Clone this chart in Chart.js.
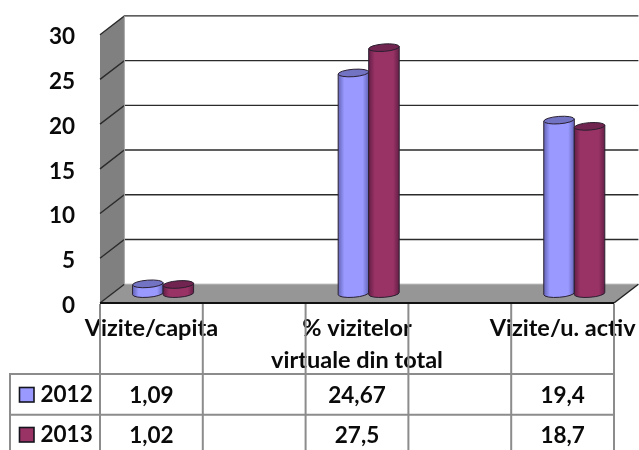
<!DOCTYPE html>
<html><head><meta charset="utf-8">
<style>html,body{margin:0;padding:0;background:#fff;overflow:hidden}canvas{display:block}</style>
<script src="https://cdn.jsdelivr.net/npm/chart.js@4"></script></head>
<body><canvas id="c" width="639" height="450"></canvas>
<script>
const categories = ["Vizite/capita", "", ["% vizitelor", "virtuale din total"], "", "Vizite/u. activ"];
const series2012 = [1.09, null, 24.67, null, 19.4];
const series2013 = [1.02, null, 27.5, null, 18.7];
const seriesNames = ["2012", "2013"];
const seriesColors = ["#9999ff", "#993366"];
const shadeColors = ["#6464b8", "#641e46"];
const topColors = ["#7373c4", "#70244f"];
const yTicks = {min: 0, max: 30, step: 5};

const FAMILY = 'Lato, "Open Sans", sans-serif';
const DX = 24.4, DY = 18.8;
const TEXT = '#0a0a0a', TABLE = '#8c8c8c', GRID = '#2b2b2b';

function cylinder(ctx, bar, i) {
  const x = bar.x + DX / 2 - 0.5, w = bar.width, rx = w / 2, ry = 3.7, tilt = -0.075;
  const yTop = bar.y - DY / 2, yBase = bar.base - DY / 2;
  const g = ctx.createLinearGradient(x - rx, 0, x + rx, 0);
  g.addColorStop(0, shadeColors[i]);
  g.addColorStop(0.2, seriesColors[i]);
  g.addColorStop(0.8, seriesColors[i]);
  g.addColorStop(1, shadeColors[i]);
  const dy = rx * Math.sin(tilt);
  ctx.save();
  ctx.beginPath();
  ctx.moveTo(x - rx, yTop - dy);
  ctx.lineTo(x - rx, yBase - dy);
  ctx.ellipse(x, yBase, rx, ry, tilt, Math.PI, 0, true);
  ctx.lineTo(x + rx, yTop + dy);
  ctx.closePath();
  ctx.fillStyle = g;
  ctx.fill();
  ctx.strokeStyle = '#2a2030';
  ctx.lineWidth = 1;
  ctx.stroke();
  ctx.beginPath();
  ctx.ellipse(x, yTop, rx, ry, tilt, 0, Math.PI * 2);
  ctx.fillStyle = topColors[i];
  ctx.fill();
  ctx.stroke();
  ctx.restore();
}

const scene = {
  id: 'scene',
  afterLayout(chart) {
    const ys = chart.scales.y, ctx = chart.ctx, draw = ys.drawLabels.bind(ys);
    ys.drawLabels = area => { ctx.save(); ctx.translate(0, 2.5); draw(area); ctx.restore(); };
  },
  beforeDatasetsDraw(chart) {
    const {ctx, scales: {x: xs, y: ys}, chartArea: a} = chart;
    ctx.save();
    ctx.fillStyle = '#808080';
    ctx.beginPath();
    ctx.moveTo(a.left, a.top); ctx.lineTo(a.left + DX, a.top - DY);
    ctx.lineTo(a.left + DX, a.bottom - DY); ctx.lineTo(a.left, a.bottom);
    ctx.closePath(); ctx.fill();
    ctx.fillStyle = '#969696';
    ctx.beginPath();
    ctx.moveTo(a.left, a.bottom); ctx.lineTo(a.left + DX, a.bottom - DY);
    ctx.lineTo(a.right + DX, a.bottom - DY); ctx.lineTo(a.right, a.bottom);
    ctx.closePath(); ctx.fill();
    ctx.strokeStyle = GRID; ctx.lineWidth = 1.4;
    ys.ticks.forEach(t => {
      const y = ys.getPixelForValue(t.value);
      ctx.beginPath();
      ctx.moveTo(a.left, y); ctx.lineTo(a.left + DX, y - DY);
      if (t.value > 0) ctx.lineTo(a.right + DX, y - DY);
      ctx.stroke();
    });
    ctx.strokeStyle = '#a8a8a8'; ctx.lineWidth = 1;
    ctx.beginPath();
    ctx.moveTo(a.left + DX, a.bottom - DY); ctx.lineTo(a.right + DX, a.bottom - DY);
    ctx.moveTo(a.left + DX, a.top - DY); ctx.lineTo(a.left + DX, a.bottom - DY);
    ctx.stroke();
    ctx.strokeStyle = '#202020'; ctx.lineWidth = 1.4;
    ctx.beginPath();
    ctx.moveTo(a.right, a.bottom); ctx.lineTo(a.right + DX, a.bottom - DY);
    ctx.stroke();
    chart.data.datasets.forEach((ds, i) => {
      chart.getDatasetMeta(i).data.forEach((bar, j) => {
        if (ds.data[j] != null) cylinder(ctx, bar, i);
      });
    });
    ctx.restore();
    return false;
  },
  afterDraw(chart) {
    const {ctx, scales: {x: xs}, chartArea: a} = chart;
    const H = chart.height, n = categories.length;
    const cw = (a.right - a.left) / n;
    const rowY = [374, 414.8], rowMid = [395.5, 435.5], legLeft = 10;
    ctx.save();
    ctx.strokeStyle = TABLE; ctx.lineWidth = 2;
    ctx.beginPath();
    for (let k = 0; k <= n; k++) {
      const x = k < n ? xs.getPixelForValue(k) - cw / 2 : xs.getPixelForValue(n - 1) + cw / 2;
      ctx.moveTo(x, a.bottom + 1); ctx.lineTo(x, H);
    }
    ctx.moveTo(legLeft, rowY[0]); ctx.lineTo(legLeft, H);
    rowY.forEach(y => { ctx.moveTo(legLeft - 1, y); ctx.lineTo(a.right + 1, y); });
    ctx.stroke();
    ctx.strokeStyle = '#111'; ctx.lineWidth = 2;
    ctx.beginPath(); ctx.moveTo(a.left, a.bottom); ctx.lineTo(a.right, a.bottom); ctx.stroke();
    ctx.font = 'bold 22.5px ' + FAMILY; ctx.textBaseline = 'middle'; ctx.fillStyle = TEXT;
    [series2012, series2013].forEach((vals, r) => {
      ctx.textAlign = 'center';
      vals.forEach((v, k) => {
        if (v != null) ctx.fillText(String(v).replace('.', ','), xs.getPixelForValue(k), rowMid[r]);
      });
      ctx.fillStyle = seriesColors[r]; ctx.strokeStyle = '#14141e'; ctx.lineWidth = 1.6;
      ctx.fillRect(19.5, rowMid[r] - 8, 14.5, 14.5);
      ctx.strokeRect(19.5, rowMid[r] - 8, 14.5, 14.5);
      ctx.fillStyle = TEXT; ctx.textAlign = 'left';
      ctx.fillText(seriesNames[r], 40.5, rowMid[r] - 1);
    });
    ctx.restore();
  }
};

new Chart(document.getElementById('c'), {
  type: 'bar',
  data: {
    labels: categories,
    datasets: [
      {label: seriesNames[0], data: series2012, backgroundColor: seriesColors[0], categoryPercentage: 0.594, barPercentage: 1},
      {label: seriesNames[1], data: series2013, backgroundColor: seriesColors[1], categoryPercentage: 0.594, barPercentage: 1}
    ]
  },
  plugins: [scene],
  options: {
    responsive: false, animation: false,
    layout: {padding: {top: 34.7, right: 25, left: 0, bottom: 0}},
    plugins: {legend: {display: false}, tooltip: {enabled: false}, title: {display: false}},
    scales: {
      x: {
        grid: {display: false}, border: {display: false},
        afterFit(s) { s.height = 147; s.paddingLeft = 0; s.paddingRight = 0; },
        ticks: {
          autoSkip: false, maxRotation: 0, minRotation: 0, padding: 1, color: TEXT,
          font: {family: FAMILY, size: 23.5, weight: 'bold', lineHeight: 1.36}
        }
      },
      y: {
        min: yTicks.min, max: yTicks.max,
        grid: {display: false}, border: {display: false},
        afterFit(s) { s.width = 100; s.paddingTop = 0; s.paddingBottom = 0; },
        ticks: {
          stepSize: yTicks.step, padding: 17, color: TEXT,
          font: {family: FAMILY, size: 22.5, weight: 'bold'}
        }
      }
    }
  }
});
</script></body></html>
